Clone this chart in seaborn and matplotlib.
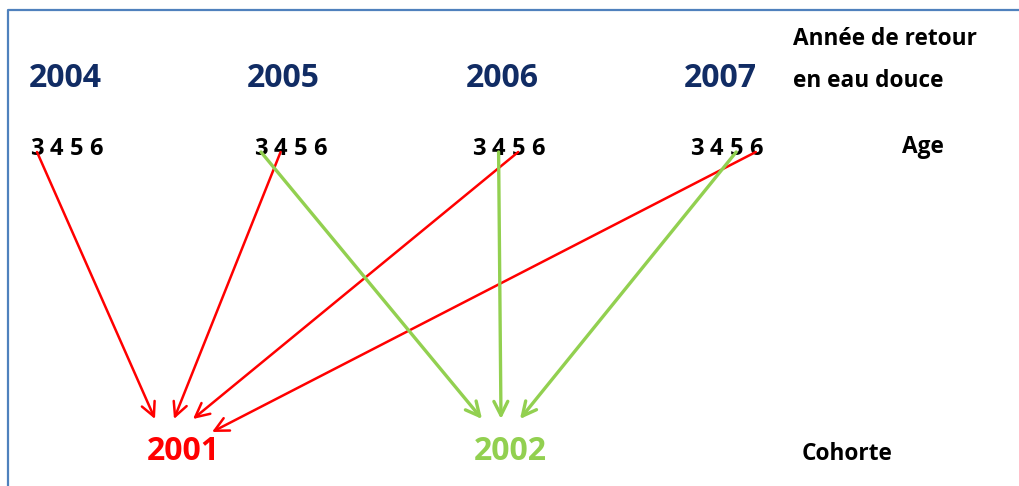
import matplotlib
matplotlib.use('Agg')
import matplotlib.pyplot as plt
import seaborn as sns
import pandas as pd

sns.set_theme(style='white')
plt.rcParams['font.family'] = ['Open Sans', 'DejaVu Sans']

# Données du schéma
annees_retour = [2004, 2005, 2006, 2007]
ages = [3, 4, 5, 6]
cohortes = [2001, 2002]
couleurs_cohorte = {2001: '#FF0000', 2002: '#92D050'}
largeurs_cohorte = {2001: 1.8, 2002: 2.4}

# positions (pixels) dans le schéma
x_annee = [65, 283, 502, 720]
x_age_debut = [37, 261, 479, 697]
pas_age = 19.6
x_cohorte = [183, 510]

# fleches : age = annee de retour - cohorte
fleches = pd.DataFrame(
    [(a, a - c, c) for c in cohortes for a in annees_retour if a - c in ages],
    columns=['annee', 'age', 'cohorte'])

fig = plt.figure(figsize=(10.19, 4.86), dpi=100)
ax = fig.add_axes([0, 0, 1, 1])
ax.set_xlim(0, 1019)
ax.set_ylim(486, 0)
ax.axis('off')

# cadre
sns.lineplot(x=[8, 8, 1025], y=[490, 10, 10], sort=False, estimator=None,
             color='#4F81BD', linewidth=1.6, ax=ax)

for i, an in enumerate(annees_retour):
    ax.text(x_annee[i], 87, str(an), ha='center', va='baseline',
            fontsize=23, fontweight='bold', color='#112C64')
    for j, ag in enumerate(ages):
        ax.text(x_age_debut[i] + pas_age * j, 155, str(ag), ha='center',
                va='baseline', fontsize=17, fontweight='bold', color='black')

for k, c in enumerate(cohortes):
    ax.text(x_cohorte[k], 460, str(c), ha='center', va='baseline',
            fontsize=23, fontweight='bold', color=couleurs_cohorte[c])

ax.text(793, 45, 'Année de retour', ha='left', va='baseline',
        fontsize=16.3, fontweight='bold', color='black')
ax.text(793, 87, 'en eau douce', ha='left', va='baseline',
        fontsize=16.3, fontweight='bold', color='black')
ax.text(902, 153, 'Age', ha='left', va='baseline',
        fontsize=16.3, fontweight='bold', color='black')
ax.text(802, 460, 'Cohorte', ha='left', va='baseline',
        fontsize=16.3, fontweight='bold', color='black')

for c, grp in fleches.groupby('cohorte'):
    xc = x_cohorte[cohortes.index(c)]
    for n, (_, r) in enumerate(grp.iterrows()):
        i = annees_retour.index(r['annee'])
        x0 = x_age_debut[i] + pas_age * ages.index(r['age'])
        x1 = xc - 28 + 19 * n
        y1 = 432 if n == 3 else 419
        ax.annotate('', xy=(x1, y1), xytext=(x0, 152),
                    arrowprops=dict(arrowstyle='->,head_length=0.5,head_width=0.25',
                                    color=couleurs_cohorte[c],
                                    lw=largeurs_cohorte[c],
                                    shrinkA=0, shrinkB=0, mutation_scale=20))

fig.savefig('out.png', dpi=100)
